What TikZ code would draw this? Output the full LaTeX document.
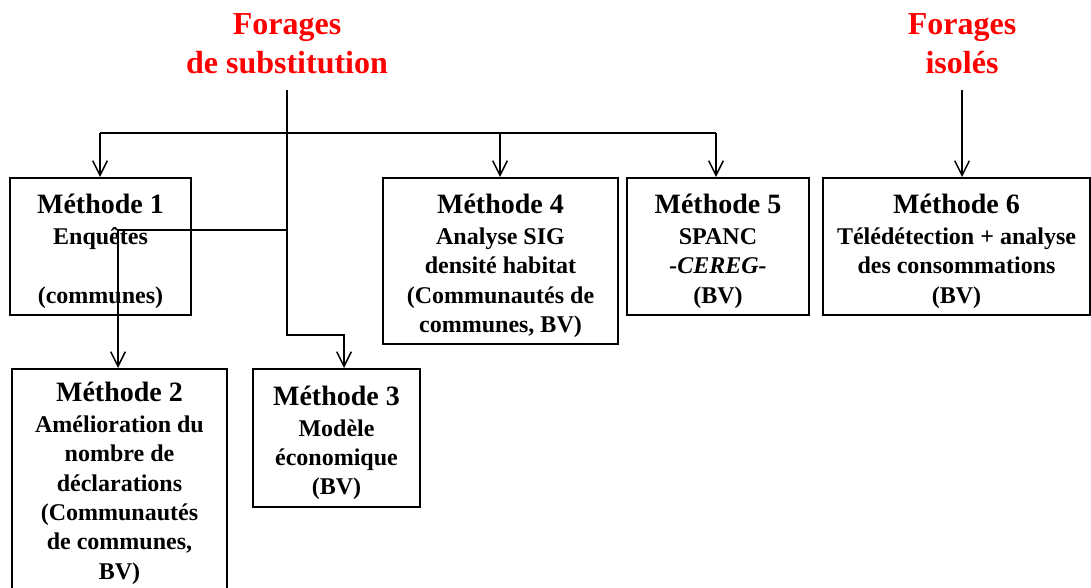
\documentclass[tikz,border=0pt]{standalone}
\usepackage{fontspec}
\setmainfont{Liberation Serif}
\usetikzlibrary{arrows.meta}
\tikzset{
  methode/.style = {draw, line width=1.5pt, anchor=north west, align=center,
                    inner sep=0pt, font=\bfseries\fontsize{18}{22}\selectfont},
  forage/.style  = {text=red, align=center, inner sep=0pt,
                    font=\bfseries\fontsize{24}{29}\selectfont},
  trait/.style   = {line width=1.1pt},
  fleche/.style  = {trait, -{Straight Barb[length=11pt,width=11pt,line width=1.1pt]}}
}
\newcommand{\titre}[1]{{\fontsize{21}{24}\selectfont\rule{0pt}{22pt}#1}\\[1pt]}

\begin{document}
\begin{tikzpicture}[x=0.75pt, y=-0.75pt]
	\def \px{0.75pt}
	\useasboundingbox (0,0) rectangle (1091,588);
	
	% Origins
	\node[forage] (src1) at (287,44) {Forages\\de substitution};
	\node[forage] (src2) at (962,44) {Forages\\isolés};
	
	% Methods
	\node[methode, minimum width=181*\px, minimum height=137*\px] (m1) at (9,177)
		{\titre{Méthode 1}Enquêtes\\~\\(communes)};
	\node[methode, minimum width=215*\px, minimum height=232*\px] (m2) at (11,368)
		{\titre{Méthode 2}Amélioration du\\nombre de\\déclarations\\(Communautés\\de communes,\\BV)\\[-8pt]~};
	\node[methode, minimum width=167*\px, minimum height=138*\px] (m3) at (252,368)
		{\titre{Méthode 3}Modèle\\économique\\(BV)};
	\node[methode, minimum width=235*\px, minimum height=166*\px] (m4) at (382,177)
		{\titre{Méthode 4}Analyse SIG\\densité habitat\\(Communautés de\\communes, BV)};
	\node[methode, minimum width=182*\px, minimum height=137*\px] (m5) at (626,177)
		{\titre{Méthode 5}SPANC\\\textit{-CEREG-}\\(BV)};
	\node[methode, minimum width=267*\px, minimum height=137*\px] (m6) at (822,177)
		{\titre{Méthode 6}Télédétection + analyse\\des consommations\\(BV)};
	
	% Junctions
	\coordinate (j1) at (100,133);
	\coordinate (j2) at (118,230);
	\coordinate (j3) at (344,335);
	\coordinate (j4) at (500,133);
	\coordinate (j5) at (716,133);
	
	% Connectors
	\draw[trait]  (j1) -- (j5);
	\draw[fleche] (j1) -- (j1 |- m1.north);
	\draw[fleche] (j4) -- (j4 |- m4.north);
	\draw[fleche] (j5) -- (j5 |- m5.north);
	\draw[fleche] ([yshift=-12pt]src1.south) |- (j3) -- (j3 |- m3.north);
	\draw[fleche] (src1 |- j2) -- (j2) -- (j2 |- m2.north);
	\draw[fleche] ([yshift=-12pt]src2.south) -- (src2 |- m6.north);
	
\end{tikzpicture}
\end{document}
